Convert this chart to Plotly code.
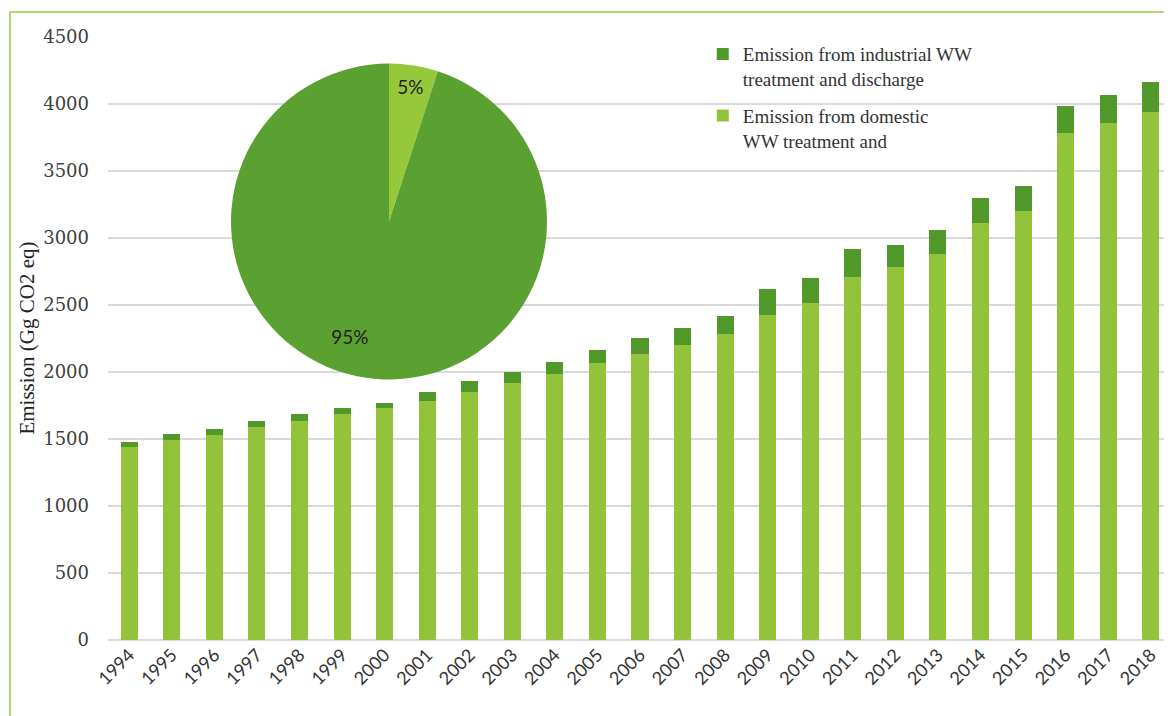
import plotly.graph_objects as go

years = [str(y) for y in range(1994, 2019)]
domestic = [1440, 1495, 1530, 1590, 1634, 1687, 1731, 1784, 1851, 1918, 1985, 2067, 2134, 2201,
            2284, 2425, 2515, 2709, 2784, 2881, 3112, 3201, 3784, 3858, 3940]
total = [1478, 1537, 1575, 1634, 1687, 1731, 1769, 1851, 1933, 2000, 2075, 2164, 2254, 2328,
         2418, 2619, 2701, 2918, 2948, 3060, 3299, 3388, 3985, 4067, 4164]
industrial = [t - d for t, d in zip(total, domestic)]

pie_labels = ["Domestic share", "Industrial share"]
pie_values = [5, 95]
NB = "\u00a0"
pie_text_templates = ["%{percent:.0%}",
                      NB + "<br>" + NB + "<br>" + NB + "<br>%{percent:.0%}" + NB * 11]

name_ind = "Emission from industrial WW<br>treatment and discharge"
name_dom = "Emission from domestic<br>WW treatment and"

LIGHT = "#93c33a"
DARK = "#51992b"

fig = go.Figure()
fig.add_trace(go.Bar(x=years, y=domestic, name=name_dom, marker_color=LIGHT,
                     marker_line_width=0, legendgroup="b", legendrank=2))
fig.add_trace(go.Bar(x=years, y=industrial, name=name_ind, marker_color=DARK,
                     marker_line_width=0, legendgroup="a", legendrank=1))
fig.add_trace(go.Pie(labels=pie_labels, values=pie_values, sort=False, direction="clockwise",
                     rotation=0, marker=dict(colors=["#96c83c", "#5aa131"]),
                     texttemplate=pie_text_templates, textposition="inside",
                     insidetextorientation="horizontal",
                     textfont=dict(family="Lato", size=19, color="#222222"),
                     showlegend=False, hoverinfo="label+percent",
                     domain=dict(x=[0.1156, 0.4126], y=[0.431, 0.957])))

fig.update_layout(
    width=1172, height=716,
    margin=dict(l=100, r=8, t=29, b=84),
    paper_bgcolor="white", plot_bgcolor="white",
    barmode="stack", bargap=0.6,
    showlegend=True,
    legend=dict(x=0.559, y=1.003, xanchor="left", yanchor="top", valign="top",
                bgcolor="rgba(0,0,0,0)", tracegroupgap=9,
                font=dict(family="Liberation Serif", size=19, color="#333333")),
    xaxis=dict(type="category", tickangle=-45, showgrid=False, ticks="",
               tickfont=dict(family="Lato", size=18, color="#333333"), showline=False),
    yaxis=dict(range=[0, 4500], dtick=500, showgrid=True, gridcolor="#d9d9d9", gridwidth=1.5,
               zeroline=True, zerolinecolor="#d9d9d9", zerolinewidth=1.5, ticks="",
               ticklabelstandoff=18,
               tickfont=dict(family="DejaVu Serif", size=18, color="#404040")),
    annotations=[dict(text="Emission (Gg CO2 eq)", xref="paper", yref="paper", x=-0.077, y=0.5,
                      xanchor="center", yanchor="middle", textangle=-90, showarrow=False,
                      font=dict(family="Liberation Serif", size=21, color="#222222"))],
    shapes=[dict(type="rect", xref="paper", yref="paper", x0=-0.0921, x1=1.05, y0=-0.2,
                 y1=1.0415, line=dict(color="#9cc746", width=1.5), fillcolor="rgba(0,0,0,0)",
                 layer="below")],
)

fig.write_html("out.html")
